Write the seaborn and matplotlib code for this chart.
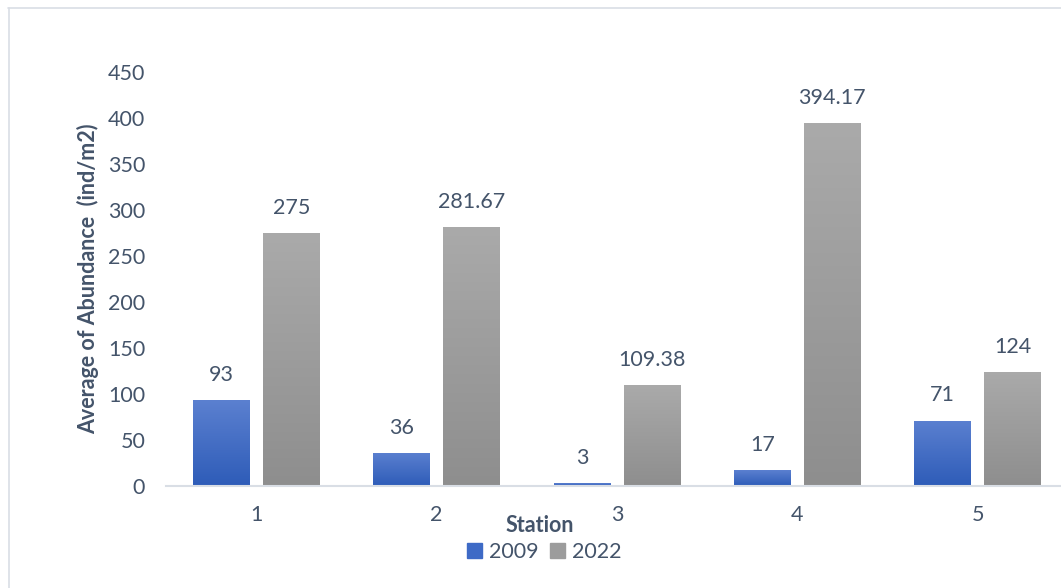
import numpy as np
import pandas as pd
import matplotlib.pyplot as plt
import matplotlib.colors as mcolors
import seaborn as sns
from matplotlib.patches import Rectangle
from matplotlib.lines import Line2D

# Chart data
stations = ["1", "2", "3", "4", "5"]
abund_2009 = [93, 36, 3, 17, 71]
abund_2022 = [275, 281.67, 109.38, 394.17, 124]
years = ["2009", "2022"]

df = pd.DataFrame({
    "Station": stations * 2,
    "Year": [years[0]] * 5 + [years[1]] * 5,
    "Abundance": abund_2009 + abund_2022,
})

sns.set_style("white")
plt.rcParams["font.family"] = ["Lato", "DejaVu Sans"]
txt = "#44546A"
fs = 15.5

W, H = 1061, 588
fig = plt.figure(figsize=(W / 100, H / 100), dpi=100)
# plot area runs past the right edge (the original chart is cropped)
ax = fig.add_axes([166 / W, 1 - 486 / H, 902 / W, 414 / H])

palette = {"2009": "#4472C4", "2022": "#A5A5A5"}
sns.barplot(data=df, x="Station", y="Abundance", hue="Year", palette=palette,
            width=0.776, gap=0.186, ax=ax, legend=False)

# Excel-like vertical gradient fills
grads = {
    "2009": ("#5B80D0", "#2E5CB8"),
    "2022": ("#AAAAAA", "#8E8E8E"),
}
for cont, yr in zip(ax.containers, years):
    top, bot = grads[yr]
    cmap = mcolors.LinearSegmentedColormap.from_list(yr, [bot, top])
    for bar in cont:
        x0, y0 = bar.get_x(), bar.get_y()
        w, h = bar.get_width(), bar.get_height()
        bar.set_facecolor("none")
        bar.set_edgecolor("none")
        grad = np.linspace(0, 1, 256).reshape(-1, 1)
        im = ax.imshow(grad, cmap=cmap, origin="lower", aspect="auto",
                       extent=(x0, x0 + w, y0, y0 + h), zorder=2)
        im.set_clip_path(bar)
    ax.bar_label(cont, labels=[f"{v:g}" for v in cont.datavalues],
                 padding=11, color=txt, fontsize=fs)

ax.set_xlim(-0.5, 4.5)
ax.set_ylim(0, 450)
ax.set_yticks(range(0, 451, 50))
for s in ["top", "right", "left"]:
    ax.spines[s].set_visible(False)
ax.spines["bottom"].set_color("#D9DEE5")
ax.spines["bottom"].set_linewidth(1.5)
ax.tick_params(axis="both", length=0, labelsize=fs, labelcolor=txt)
ax.tick_params(axis="x", pad=14)
ax.tick_params(axis="y", pad=15)

ax.set_xlabel("")
ax.set_ylabel("Average of Abundance  (ind/m2)", fontsize=fs,
              fontweight="bold", color=txt, labelpad=6)
fig.text(540 / W, 1 - 525 / H, "Station", ha="center", va="center",
         fontsize=fs, fontweight="bold", color=txt)

# legend
handles = [Rectangle((0, 0), 1, 1, color="#3E6AC6"),
           Rectangle((0, 0), 1, 1, color="#9C9C9C")]
fig.legend(handles, years, loc="center", bbox_to_anchor=(544 / W, 1 - 552 / H),
           ncol=2, frameon=False, fontsize=fs, labelcolor=txt,
           handlelength=0.7, handleheight=0.7, handletextpad=0.3,
           columnspacing=0.55)

# chart border (only top and left edges are visible in the crop)
bc = "#D9DEE5"
fig.add_artist(Line2D([8 / W, 1], [1 - 8 / H, 1 - 8 / H], transform=fig.transFigure,
                      color=bc, lw=1.2))
fig.add_artist(Line2D([8.5 / W, 8.5 / W], [0, 1 - 8 / H], transform=fig.transFigure,
                      color=bc, lw=1.2))

fig.savefig("out.png", dpi=100)
